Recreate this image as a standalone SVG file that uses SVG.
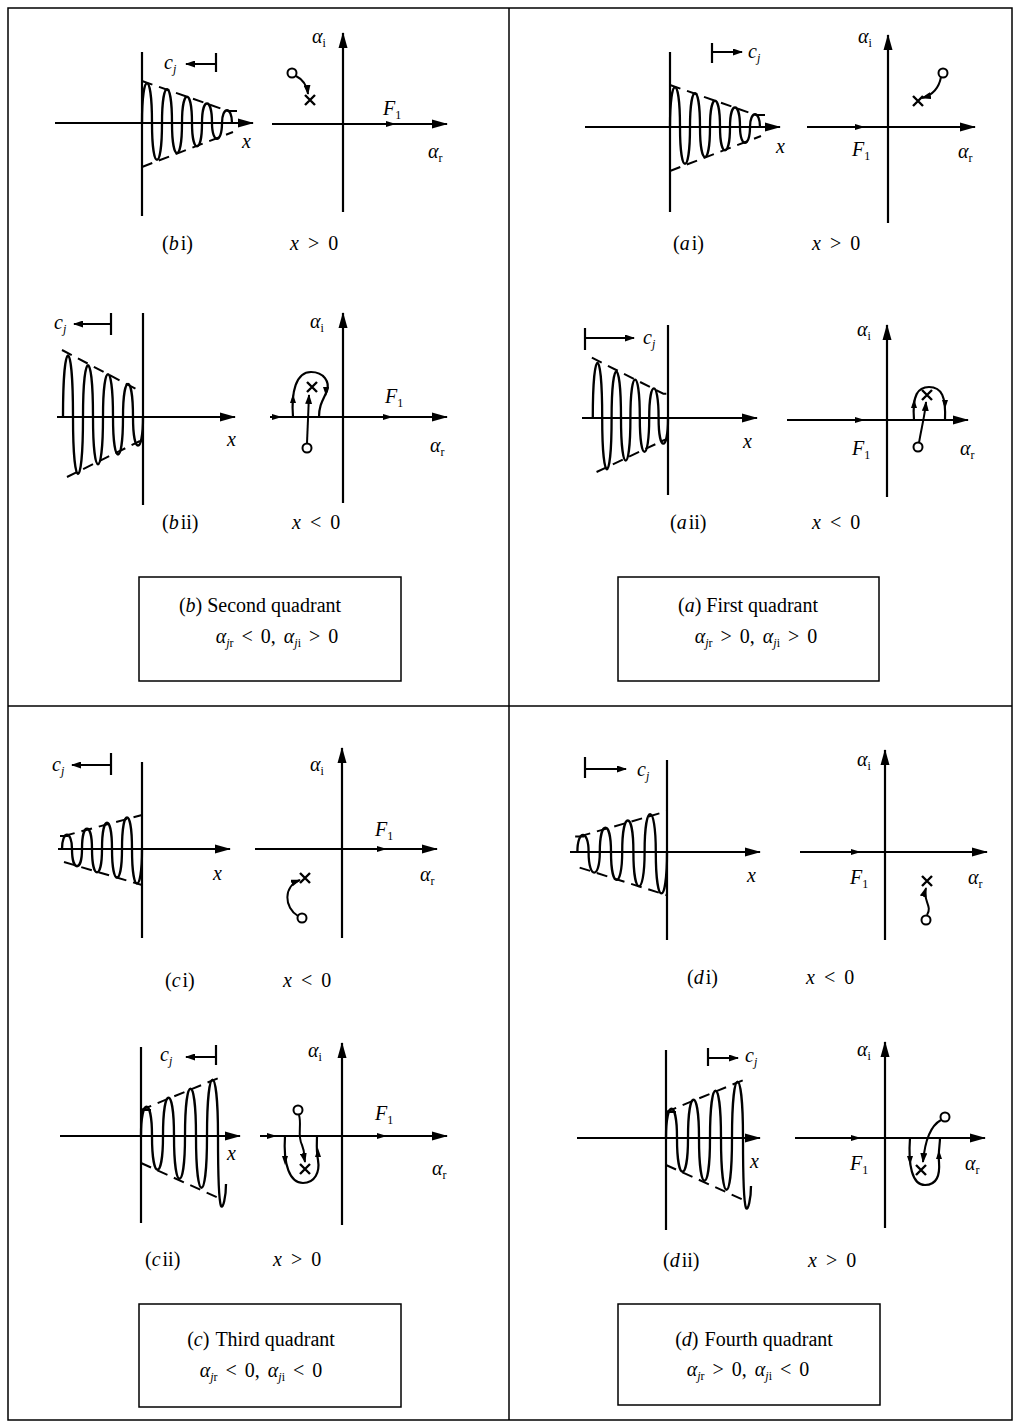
<svg xmlns="http://www.w3.org/2000/svg" xmlns:xlink="http://www.w3.org/1999/xlink" width="1015" height="1423" viewBox="0 0 1015 1423">
<style>
.ln{stroke:#000;stroke-width:2.2;fill:none}
.wv{stroke:#000;stroke-width:2.3;fill:none;vector-effect:non-scaling-stroke}
.dash{stroke:#000;stroke-width:2;fill:none;stroke-dasharray:11 7;vector-effect:non-scaling-stroke}
.ax{stroke:#000;stroke-width:2.2;fill:none;marker-end:url(#ah)}
.ar{stroke:#000;stroke-width:2;fill:none;marker-end:url(#sa)}
.fr{stroke:#000;stroke-width:1.5;fill:none}
.t{font-family:"Liberation Serif","Times New Roman",serif;font-size:20px;fill:#000}
.bt{font-size:20px}
.i{font-style:italic}
.s{font-size:12px}
.xm{stroke:#000;stroke-width:2.4;fill:none}
.o{stroke:#000;stroke-width:2;fill:#fff}
</style>
<defs>
<marker id="ah" markerUnits="userSpaceOnUse" viewBox="0 0 16 10" markerWidth="16" markerHeight="10" refX="15" refY="5" orient="auto"><path d="M0,0.5 L16,5 L0,9.5 z" fill="#000"/></marker>
<marker id="sa" markerUnits="userSpaceOnUse" viewBox="0 0 10 7" markerWidth="10" markerHeight="7" refX="9" refY="3.5" orient="auto"><path d="M0,0 L10,3.5 L0,7 z" fill="#000"/></marker>
<path id="fm" d="M-7,-3 L3,0 L-7,3 z" fill="#000"/>
<path id="au" d="M-3,4 L0,-5 L3,4 z" fill="#000"/>
<path id="ad" d="M-3,-4 L0,5 L3,-4 z" fill="#000"/>
<g id="xmark"><path class="xm" d="M-5,-5 L5,5 M5,-5 L-5,5"/></g>
<g id="decayR">
<path class="wv" d="M0,0 C0,-53 10,-53 10,0 C10,49 20,49 20,0 C20,-45 30,-45 30,0 C30,40 40,40 40,0 C40,-35 50,-35 50,0 C50,31 60,31 60,0 C60,-26 70,-26 70,0 C70,21 80,21 80,0 C80,-17 90,-17 90,0"/>
<path class="dash" d="M0,-42 L86,-12 M86,-12 L95,-12 M0,44 L91,9"/>
</g>
<g id="decayL">
<path class="wv" d="M-80,0 C-80,-82 -70,-82 -70,0 C-70,76 -60,76 -60,0 C-60,-69 -50,-69 -50,0 C-50,63 -40,63 -40,0 C-40,-57 -30,-57 -30,0 C-30,50 -20,50 -20,0 C-20,-44 -10,-44 -10,0 C-10,38 0,38 0,0"/>
<path class="dash" d="M-81,-67 L-5,-27 L0,-27 M-76,60 L-3,24"/>
</g>
<g id="growR">
<path class="wv" d="M-80,0 C-80,-19 -70,-19 -70,0 C-70,23 -60,23 -60,0 C-60,-27 -50,-27 -50,0 C-50,31 -40,31 -40,0 C-40,-35 -30,-35 -30,0 C-30,38 -20,38 -20,0 C-20,-42 -10,-42 -10,0 C-10,46 0,46 0,0"/>
<path class="dash" d="M-82,-13 L-74,-13 M-78,-13 L0,-34 M-78,13 L0,36"/>
</g>
<g id="growL">
<path class="wv" d="M0,0 C0,-39 11,-39 11,0 C11,45 22,45 22,0 C22,-51 33,-51 33,0 C33,57 44,57 44,0 C44,-63 55,-63 55,0 C55,69 66,69 66,0 C66,-75 77,-75 77,0 C77,40 78,65 80,70 C82,74 85,60 85,48"/>
<path class="dash" d="M0,-26 L10,-26 M0,-26 L80,-59 M0,27 L80,63"/>
</g>
</defs>

<g id="frame">
<rect class="fr" x="8" y="8" width="1004" height="1412"/>
<line class="fr" x1="509" y1="8" x2="509" y2="1420"/>
<line class="fr" x1="8" y1="706" x2="1012" y2="706"/>
</g>

<!-- (b i) -->
<g id="panel-bi">
<line class="ln" x1="142" y1="52" x2="142" y2="216"/>
<line class="ax" x1="55" y1="123" x2="253" y2="123"/>
<use href="#decayR" transform="translate(142,123)"/>
<line class="ln" x1="216" y1="53" x2="216" y2="72"/>
<line class="ar" x1="216" y1="64" x2="186" y2="64"/>
<text class="t i" x="164" y="69">c<tspan class="s" dy="4">j</tspan></text>
<text class="t i" x="242" y="148">x</text>
<line class="ax" x1="272" y1="124" x2="447" y2="124"/>
<line class="ax" x1="343" y1="212" x2="343" y2="33"/>
<use href="#fm" x="393" y="124"/>
<text class="t" x="312" y="43"><tspan class="i">α</tspan><tspan class="s" dy="4">i</tspan></text>
<text class="t" x="383" y="115"><tspan class="i">F</tspan><tspan class="s" dy="4">1</tspan></text>
<text class="t" x="428" y="158"><tspan class="i">α</tspan><tspan class="s" dy="4">r</tspan></text>
<circle class="o" cx="292" cy="73" r="4.5"/>
<path class="ar" d="M296,76 C302,79 307,85 308,94"/>
<use href="#xmark" x="310" y="100"/>
<text class="t" x="162" y="250">(<tspan class="i">b</tspan><tspan dx="2">i)</tspan></text>
<text class="t" x="290" y="250" word-spacing="4"><tspan class="i">x</tspan> &gt; 0</text>
</g>

<!-- (a i) -->
<g id="panel-ai">
<line class="ln" x1="670" y1="52" x2="670" y2="212"/>
<line class="ax" x1="585" y1="127" x2="780" y2="127"/>
<use href="#decayR" transform="translate(670,127)"/>
<line class="ln" x1="712" y1="43" x2="712" y2="63"/>
<line class="ar" x1="712" y1="52" x2="742" y2="52"/>
<text class="t i" x="748" y="58">c<tspan class="s" dy="4">j</tspan></text>
<text class="t i" x="776" y="153">x</text>
<line class="ax" x1="807" y1="127" x2="975" y2="127"/>
<line class="ax" x1="888" y1="223" x2="888" y2="35"/>
<use href="#fm" x="862" y="127"/>
<text class="t" x="858" y="43"><tspan class="i">α</tspan><tspan class="s" dy="4">i</tspan></text>
<text class="t" x="852" y="156"><tspan class="i">F</tspan><tspan class="s" dy="4">1</tspan></text>
<text class="t" x="958" y="158"><tspan class="i">α</tspan><tspan class="s" dy="4">r</tspan></text>
<circle class="o" cx="943" cy="73" r="4.5"/>
<path class="ar" d="M941,77 C939,88 933,95 922,98"/>
<use href="#xmark" x="918" y="101"/>
<text class="t" x="673" y="250">(<tspan class="i">a</tspan><tspan dx="2">i)</tspan></text>
<text class="t" x="812" y="250" word-spacing="4"><tspan class="i">x</tspan> &gt; 0</text>
</g>

<!-- (b ii) -->
<g id="panel-bii">
<line class="ln" x1="143" y1="313" x2="143" y2="505"/>
<line class="ax" x1="57" y1="417" x2="235" y2="417"/>
<use href="#decayL" transform="translate(143,417)"/>
<line class="ln" x1="111" y1="313" x2="111" y2="335"/>
<line class="ar" x1="111" y1="324" x2="74" y2="324"/>
<text class="t i" x="54" y="329">c<tspan class="s" dy="4">j</tspan></text>
<text class="t i" x="227" y="446">x</text>
<line class="ax" x1="270" y1="417" x2="447" y2="417"/>
<line class="ax" x1="343" y1="503" x2="343" y2="313"/>
<use href="#fm" x="279" y="417"/>
<use href="#fm" x="390" y="417"/>
<text class="t" x="310" y="328"><tspan class="i">α</tspan><tspan class="s" dy="4">i</tspan></text>
<text class="t" x="385" y="403"><tspan class="i">F</tspan><tspan class="s" dy="4">1</tspan></text>
<text class="t" x="430" y="452"><tspan class="i">α</tspan><tspan class="s" dy="4">r</tspan></text>
<path class="ln" d="M293,417 C291,392 296,372 311,372 C324,372 330,382 327,391 C323,400 319,405 319,417"/>
<use href="#au" x="293" y="399"/>
<use href="#ad" x="326" y="391"/>
<circle class="o" cx="307" cy="448" r="4.5"/>
<path class="ar" d="M307,443 L309,395"/>
<use href="#xmark" x="312" y="387"/>
<text class="t" x="162" y="529">(<tspan class="i">b</tspan><tspan dx="2">ii)</tspan></text>
<text class="t" x="292" y="529" word-spacing="4"><tspan class="i">x</tspan> &lt; 0</text>
</g>

<!-- (a ii) -->
<g id="panel-aii">
<line class="ln" x1="668" y1="325" x2="668" y2="495"/>
<line class="ax" x1="582" y1="418" x2="757" y2="418"/>
<use href="#decayL" transform="translate(668,418) scale(0.94,0.9)"/>
<line class="ln" x1="585" y1="328" x2="585" y2="350"/>
<line class="ar" x1="585" y1="338" x2="634" y2="338"/>
<text class="t i" x="643" y="344">c<tspan class="s" dy="4">j</tspan></text>
<text class="t i" x="743" y="448">x</text>
<line class="ax" x1="787" y1="420" x2="968" y2="420"/>
<line class="ax" x1="887" y1="497" x2="887" y2="325"/>
<use href="#fm" x="862" y="420"/>
<text class="t" x="857" y="336"><tspan class="i">α</tspan><tspan class="s" dy="4">i</tspan></text>
<text class="t" x="852" y="455"><tspan class="i">F</tspan><tspan class="s" dy="4">1</tspan></text>
<text class="t" x="960" y="455"><tspan class="i">α</tspan><tspan class="s" dy="4">r</tspan></text>
<path class="ln" d="M914,420 C912,395 918,387 929,387 C942,387 946,397 945,420"/>
<use href="#au" x="914" y="404"/>
<use href="#ad" x="945" y="404"/>
<circle class="o" cx="918" cy="447" r="4.5"/>
<path class="ar" d="M919,443 C921,430 925,415 926,402"/>
<use href="#xmark" x="927" y="395"/>
<text class="t" x="670" y="529">(<tspan class="i">a</tspan><tspan dx="2">ii)</tspan></text>
<text class="t" x="812" y="529" word-spacing="4"><tspan class="i">x</tspan> &lt; 0</text>
</g>

<!-- boxes top -->
<g id="box-b">
<rect class="fr" x="139" y="577" width="262" height="104"/>
<text class="t bt" x="260" y="612" text-anchor="middle">(<tspan class="i">b</tspan>) Second quadrant</text>
<text class="t" x="277" y="643" text-anchor="middle" word-spacing="3"><tspan class="i">α</tspan><tspan class="s" dy="4"><tspan class="i">j</tspan>r</tspan><tspan dy="-4"> &lt; 0, </tspan><tspan class="i">α</tspan><tspan class="s" dy="4"><tspan class="i">j</tspan>i</tspan><tspan dy="-4"> &gt; 0</tspan></text>
</g>
<g id="box-a">
<rect class="fr" x="618" y="577" width="261" height="104"/>
<text class="t bt" x="748" y="612" text-anchor="middle">(<tspan class="i">a</tspan>) First quadrant</text>
<text class="t" x="756" y="643" text-anchor="middle" word-spacing="3"><tspan class="i">α</tspan><tspan class="s" dy="4"><tspan class="i">j</tspan>r</tspan><tspan dy="-4"> &gt; 0, </tspan><tspan class="i">α</tspan><tspan class="s" dy="4"><tspan class="i">j</tspan>i</tspan><tspan dy="-4"> &gt; 0</tspan></text>
</g>

<!-- (c i) -->
<g id="panel-ci">
<line class="ln" x1="142" y1="762" x2="142" y2="938"/>
<line class="ax" x1="58" y1="849" x2="230" y2="849"/>
<use href="#growR" transform="translate(142,849)"/>
<line class="ln" x1="111" y1="753" x2="111" y2="775"/>
<line class="ar" x1="111" y1="765" x2="72" y2="765"/>
<text class="t i" x="52" y="771">c<tspan class="s" dy="4">j</tspan></text>
<text class="t i" x="213" y="880">x</text>
<line class="ax" x1="255" y1="849" x2="437" y2="849"/>
<line class="ax" x1="342" y1="938" x2="342" y2="748"/>
<use href="#fm" x="384" y="849"/>
<text class="t" x="310" y="771"><tspan class="i">α</tspan><tspan class="s" dy="4">i</tspan></text>
<text class="t" x="375" y="836"><tspan class="i">F</tspan><tspan class="s" dy="4">1</tspan></text>
<text class="t" x="420" y="881"><tspan class="i">α</tspan><tspan class="s" dy="4">r</tspan></text>
<circle class="o" cx="302" cy="918" r="4.5"/>
<path class="ar" d="M298,916 C284,908 283,886 300,880"/>
<use href="#xmark" x="305" y="878"/>
<text class="t" x="165" y="987">(<tspan class="i">c</tspan><tspan dx="2">i)</tspan></text>
<text class="t" x="283" y="987" word-spacing="4"><tspan class="i">x</tspan> &lt; 0</text>
</g>

<!-- (d i) -->
<g id="panel-di">
<line class="ln" x1="667" y1="760" x2="667" y2="940"/>
<line class="ax" x1="570" y1="852" x2="760" y2="852"/>
<use href="#growR" transform="translate(667,852) scale(1.12,1.2)"/>
<line class="ln" x1="585" y1="757" x2="585" y2="778"/>
<line class="ar" x1="585" y1="769" x2="626" y2="769"/>
<text class="t i" x="637" y="776">c<tspan class="s" dy="4">j</tspan></text>
<text class="t i" x="747" y="882">x</text>
<line class="ax" x1="800" y1="852" x2="987" y2="852"/>
<line class="ax" x1="885" y1="940" x2="885" y2="750"/>
<use href="#fm" x="858" y="852"/>
<text class="t" x="857" y="766"><tspan class="i">α</tspan><tspan class="s" dy="4">i</tspan></text>
<text class="t" x="850" y="884"><tspan class="i">F</tspan><tspan class="s" dy="4">1</tspan></text>
<text class="t" x="968" y="884"><tspan class="i">α</tspan><tspan class="s" dy="4">r</tspan></text>
<circle class="o" cx="926" cy="920" r="4.5"/>
<path class="ar" d="M927,915 C933,906 922,900 926,888"/>
<use href="#xmark" x="927" y="881"/>
<text class="t" x="687" y="984">(<tspan class="i">d</tspan><tspan dx="2">i)</tspan></text>
<text class="t" x="806" y="984" word-spacing="4"><tspan class="i">x</tspan> &lt; 0</text>
</g>

<!-- (c ii) -->
<g id="panel-cii">
<line class="ln" x1="141" y1="1047" x2="141" y2="1223"/>
<line class="ax" x1="60" y1="1136" x2="240" y2="1136"/>
<use href="#growL" transform="translate(141,1136)"/>
<line class="ln" x1="216" y1="1045" x2="216" y2="1065"/>
<line class="ar" x1="216" y1="1057" x2="186" y2="1057"/>
<text class="t i" x="160" y="1061">c<tspan class="s" dy="4">j</tspan></text>
<text class="t i" x="227" y="1160">x</text>
<line class="ax" x1="260" y1="1136" x2="447" y2="1136"/>
<line class="ax" x1="342" y1="1225" x2="342" y2="1043"/>
<use href="#fm" x="274" y="1136"/>
<use href="#fm" x="384" y="1136"/>
<text class="t" x="308" y="1057"><tspan class="i">α</tspan><tspan class="s" dy="4">i</tspan></text>
<text class="t" x="375" y="1120"><tspan class="i">F</tspan><tspan class="s" dy="4">1</tspan></text>
<text class="t" x="432" y="1175"><tspan class="i">α</tspan><tspan class="s" dy="4">r</tspan></text>
<path class="ln" d="M285,1136 C283,1165 290,1183 303,1183 C315,1183 320,1172 318,1160 C316,1150 317,1142 317,1136"/>
<use href="#ad" x="285" y="1160"/>
<use href="#au" x="318" y="1153"/>
<circle class="o" cx="298" cy="1110" r="4.5"/>
<path class="ar" d="M299,1115 C302,1125 297,1135 302,1145 C305,1152 304,1157 305,1162"/>
<use href="#xmark" x="305" y="1169"/>
<text class="t" x="145" y="1266">(<tspan class="i">c</tspan><tspan dx="2">ii)</tspan></text>
<text class="t" x="273" y="1266" word-spacing="4"><tspan class="i">x</tspan> &gt; 0</text>
</g>

<!-- (d ii) -->
<g id="panel-dii">
<line class="ln" x1="666" y1="1050" x2="666" y2="1230"/>
<line class="ax" x1="577" y1="1138" x2="760" y2="1138"/>
<use href="#growL" transform="translate(666,1138)"/>
<line class="ln" x1="708" y1="1048" x2="708" y2="1066"/>
<line class="ar" x1="708" y1="1058" x2="738" y2="1058"/>
<text class="t i" x="745" y="1062">c<tspan class="s" dy="4">j</tspan></text>
<text class="t i" x="750" y="1168">x</text>
<line class="ax" x1="795" y1="1138" x2="985" y2="1138"/>
<line class="ax" x1="885" y1="1228" x2="885" y2="1042"/>
<use href="#fm" x="858" y="1138"/>
<text class="t" x="857" y="1056"><tspan class="i">α</tspan><tspan class="s" dy="4">i</tspan></text>
<text class="t" x="850" y="1170"><tspan class="i">F</tspan><tspan class="s" dy="4">1</tspan></text>
<text class="t" x="965" y="1170"><tspan class="i">α</tspan><tspan class="s" dy="4">r</tspan></text>
<path class="ln" d="M910,1138 C908,1165 912,1185 925,1185 C937,1185 940,1175 939,1162 C938,1152 940,1145 940,1138"/>
<use href="#ad" x="910" y="1160"/>
<use href="#au" x="939" y="1155"/>
<circle class="o" cx="945" cy="1117" r="4.5"/>
<path class="ar" d="M941,1120 C930,1126 925,1140 923,1162"/>
<use href="#xmark" x="921" y="1170"/>
<text class="t" x="663" y="1267">(<tspan class="i">d</tspan><tspan dx="2">ii)</tspan></text>
<text class="t" x="808" y="1267" word-spacing="4"><tspan class="i">x</tspan> &gt; 0</text>
</g>

<!-- boxes bottom -->
<g id="box-c">
<rect class="fr" x="139" y="1304" width="262" height="103"/>
<text class="t bt" x="261" y="1346" text-anchor="middle">(<tspan class="i">c</tspan>)<tspan dx="6">Third quadrant</tspan></text>
<text class="t" x="261" y="1377" text-anchor="middle" word-spacing="3"><tspan class="i">α</tspan><tspan class="s" dy="4"><tspan class="i">j</tspan>r</tspan><tspan dy="-4"> &lt; 0, </tspan><tspan class="i">α</tspan><tspan class="s" dy="4"><tspan class="i">j</tspan>i</tspan><tspan dy="-4"> &lt; 0</tspan></text>
</g>
<g id="box-d">
<rect class="fr" x="618" y="1304" width="262" height="101"/>
<text class="t bt" x="754" y="1346" text-anchor="middle">(<tspan class="i">d</tspan>)<tspan dx="6">Fourth quadrant</tspan></text>
<text class="t" x="748" y="1376" text-anchor="middle" word-spacing="3"><tspan class="i">α</tspan><tspan class="s" dy="4"><tspan class="i">j</tspan>r</tspan><tspan dy="-4"> &gt; 0, </tspan><tspan class="i">α</tspan><tspan class="s" dy="4"><tspan class="i">j</tspan>i</tspan><tspan dy="-4"> &lt; 0</tspan></text>
</g>
</svg>
